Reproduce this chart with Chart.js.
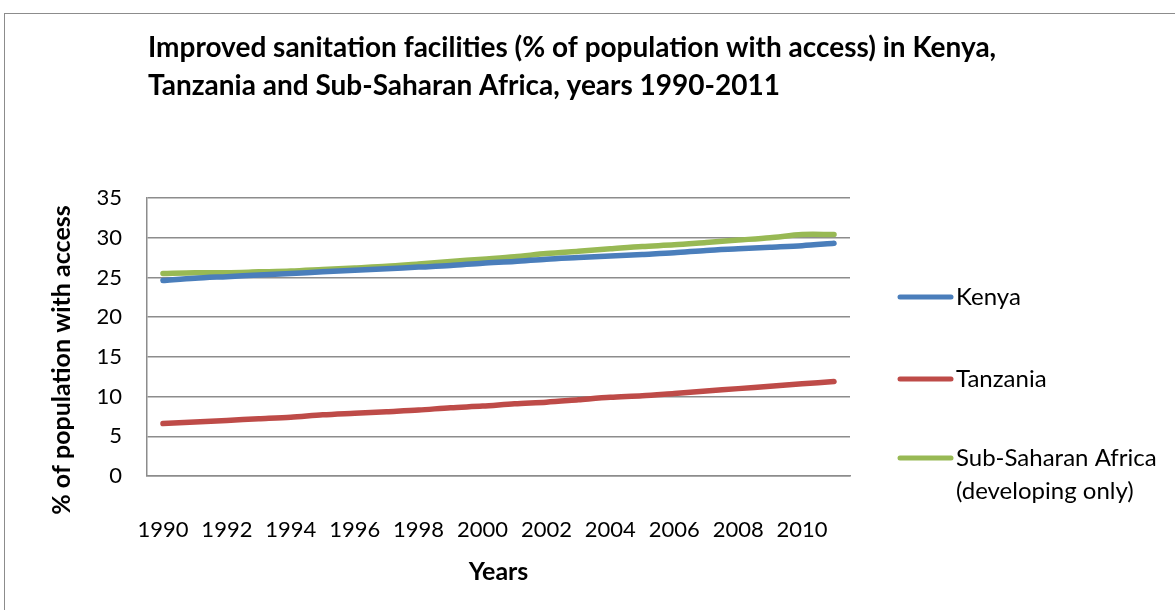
<!DOCTYPE html>
<html>
<head>
<meta charset="utf-8">
<script src="https://cdn.jsdelivr.net/npm/chart.js@4.4.1/dist/chart.umd.min.js"></script>
<style>
  body { margin: 0; background: #fff; }
  #wrap { position: relative; width: 1175px; height: 610px; }
  #frame { position: absolute; left: 4px; top: 13px; width: 1200px; height: 620px; border: 1px solid #8c8c8c; box-sizing: border-box; pointer-events: none; }
</style>
</head>
<body>
<div id="wrap">
  <canvas id="myChart" width="1175" height="610"></canvas>
  <div id="frame"></div>
</div>
<script>
const years = ['1990', '1991', '1992', '1993', '1994', '1995', '1996', '1997', '1998', '1999', '2000',
    '2001', '2002', '2003', '2004', '2005', '2006', '2007', '2008', '2009', '2010', '2011'];
const kenya = [24.6, 24.9, 25.1, 25.3, 25.5, 25.7, 25.9, 26.1, 26.3, 26.5, 26.8,
    27.0, 27.3, 27.5, 27.7, 27.9, 28.1, 28.4, 28.6, 28.8, 29.0, 29.3];
const tanzania = [6.6, 6.8, 7.0, 7.2, 7.4, 7.7, 7.9, 8.1, 8.3, 8.6, 8.8,
    9.1, 9.3, 9.6, 9.9, 10.1, 10.4, 10.7, 11.0, 11.3, 11.6, 11.9];
const ssa = [25.5, 25.6, 25.6, 25.7, 25.8, 26.0, 26.2, 26.4, 26.7, 27.0, 27.3,
    27.6, 28.0, 28.3, 28.6, 28.9, 29.1, 29.4, 29.7, 30.0, 30.4, 30.4];
const seriesNames = ['Kenya', 'Tanzania', 'Sub-Saharan Africa (developing only)'];
const legendText = [['Kenya'], ['Tanzania'], ['Sub-Saharan Africa', '(developing only)']];
const titleLines = ['Improved sanitation facilities (% of population with access) in Kenya,',
    'Tanzania and Sub-Saharan Africa, years 1990-2011'];
const yTitle = '% of population with access';
const xTitle = 'Years';

const FONT = 'Lato, Carlito, Calibri, sans-serif';
const gridColor = '#8c8c8c';

// title, y axis title and legend drawn by hand (Excel-like placement)
const extras = {
    id: 'extras',
    afterDraw(chart) {
        const c = chart.ctx;
        c.save();
        c.fillStyle = '#000';
        c.textBaseline = 'middle';
        c.textAlign = 'left';
        c.font = 'bold 28px ' + FONT;
        c.fillText(titleLines[0], 148, 48);
        c.fillText(titleLines[1], 148, 86);

        c.save();
        c.translate(62, 360);
        c.rotate(-Math.PI / 2);
        c.textAlign = 'center';
        c.font = 'bold 25px ' + FONT;
        c.fillText(yTitle, 0, 0);
        c.restore();

        const rows = [297, 379, 458];
        c.font = '24px ' + FONT;
        chart.data.datasets.forEach((ds, i) => {
            c.strokeStyle = ds.borderColor;
            c.lineWidth = 5;
            c.lineCap = 'round';
            c.beginPath();
            c.moveTo(900, rows[i]);
            c.lineTo(951, rows[i]);
            c.stroke();
            legendText[i].forEach((t, j) => {
                c.fillText(t, 956, rows[i] + j * 33);
            });
        });
        c.restore();
    }
};

const ctx = document.getElementById('myChart').getContext('2d');
const myChart = new Chart(ctx, {
    type: 'line',
    data: {
        labels: years,
        datasets: [{
            label: seriesNames[0],
            data: kenya,
            borderColor: '#4a7ebb',
            backgroundColor: '#4a7ebb',
            borderWidth: 5.5,
            pointRadius: 0,
            tension: 0.3,
            borderCapStyle: 'round'
        }, {
            label: seriesNames[1],
            data: tanzania,
            borderColor: '#be4b48',
            backgroundColor: '#be4b48',
            borderWidth: 5.5,
            pointRadius: 0,
            tension: 0.3,
            borderCapStyle: 'round'
        }, {
            label: seriesNames[2],
            data: ssa,
            borderColor: '#98b954',
            backgroundColor: '#98b954',
            borderWidth: 5.5,
            pointRadius: 0,
            tension: 0.3,
            borderCapStyle: 'round'
        }]
    },
    options: {
        responsive: false,
        animation: false,
        layout: {
            padding: { top: 198, left: 0, right: 325, bottom: 0 }
        },
        plugins: {
            legend: { display: false },
            title: { display: false },
            tooltip: { enabled: false }
        },
        scales: {
            x: {
                offset: true,
                grid: { display: false },
                border: { display: true, color: gridColor, width: 1.5 },
                ticks: {
                    autoSkip: false,
                    maxRotation: 0,
                    padding: 33,
                    color: '#000',
                    font: { family: FONT, size: 22 },
                    callback: function (val, i) {
                        return i % 2 === 0 ? years[i] : '';
                    }
                },
                title: {
                    display: true,
                    text: xTitle,
                    color: '#000',
                    font: { family: FONT, size: 25, weight: 'bold' },
                    padding: { top: 0, bottom: 23 }
                },
                afterFit: (scale) => { scale.height = 134; }
            },
            y: {
                min: 0,
                max: 35,
                grid: { color: gridColor, lineWidth: 1.5, drawTicks: false },
                border: { display: true, color: gridColor, width: 1.5 },
                ticks: {
                    stepSize: 5,
                    padding: 25,
                    color: '#000',
                    font: { family: FONT, size: 22 }
                },
                afterFit: (scale) => { scale.width = 147; }
            }
        }
    },
    plugins: [extras]
});
</script>
</body>
</html>
